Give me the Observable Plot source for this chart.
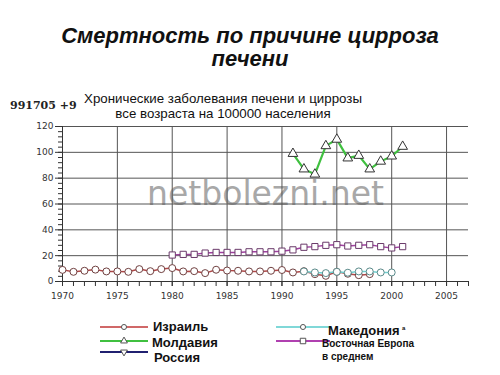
<!DOCTYPE html>
<html>
<head>
<meta charset="utf-8">
<script src="https://cdn.jsdelivr.net/npm/d3@7"></script>
<script src="https://cdn.jsdelivr.net/npm/@observablehq/plot@0.6"></script>
<style>
  body { margin:0; width:500px; height:375px; background:#fff; position:relative; overflow:hidden; font-family:"Liberation Sans", Arial, sans-serif; }
  .abs { position:absolute; }
  #title { left:0; width:500px; top:24px; text-align:center; font-weight:bold; font-style:italic; font-size:22px; line-height:23px; color:#111; }
  #sub { left:78px; width:290px; top:91px; text-align:center; font-size:13.3px; line-height:15px; color:#111; background:#fff; }
  #code { left:10px; top:99px; width:69px; overflow:hidden; white-space:nowrap; font-family:"DejaVu Serif", serif; font-weight:bold; font-size:11px; color:#222; }
  #chart { left:0; top:0; }
</style>
</head>
<body>
<div id="chart" class="abs"></div>
<div id="code" class="abs">991705 +9</div>
<div id="sub" class="abs">Хронические заболевания печени и циррозы<br>все возраста на 100000 населения</div>
<div id="title" class="abs">Смертность по причине цирроза<br>печени</div>
<svg class="abs" style="left:0;top:0" width="500" height="375" id="legend"></svg>
<script>
const israelYears = [1970,1971,1972,1973,1974,1975,1976,1977,1978,1979,1980,1981,1982,1983,1984,1985,1986,1987,1988,1989,1990,1991,1992,1993,1994,1995,1996,1997,1998];
const israelValues = [9,7.5,8.3,9.2,7.8,7.8,7.5,9.6,8,9.6,10.4,7.8,8,6.5,9.1,8.5,8.3,7.8,7.8,8.3,8.9,7,8,5.7,4.4,7.5,6,4.9,5.7];
const moldovaYears = [1991,1992,1993,1994,1995,1996,1997,1998,1999,2000,2001];
const moldovaValues = [99,87,83,105,110,95.5,97.5,87,93,97,104.5];
const macedoniaYears = [1992,1993,1994,1995,1996,1997,1998,1999,2000];
const macedoniaValues = [7.8,7,6.5,7.5,6.8,7.8,7.8,7,7];
const eeYears = [1980,1981,1982,1983,1984,1985,1986,1987,1988,1989,1990,1991,1992,1993,1994,1995,1996,1997,1998,1999,2000,2001];
const eeValues = [20.5,21,21,22,22.5,22.5,22.5,23,23,23,23.5,24.5,26.5,27,28,28.5,27.5,28,28.5,27,26,27];
const yTicks = [0,20,40,60,80,100,120];
const xTicks = [1970,1975,1980,1985,1990,1995,2000,2005];

const rows = (ys, vs) => ys.map((y,i)=>({year:y, value:vs[i]}));
const israel = rows(israelYears, israelValues);
const moldova = rows(moldovaYears, moldovaValues);
const macedonia = rows(macedoniaYears, macedoniaValues);
const ee = rows(eeYears, eeValues);

const grid = "#555";
const plot = Plot.plot({
  width: 500, height: 310,
  marginTop: 126, marginLeft: 62, marginRight: 32, marginBottom: 29,
  x: {domain: [1970, 2007], label: null},
  y: {domain: [0, 120], label: null},
  style: {fontFamily: "DejaVu Sans, sans-serif", fontSize: "9px", color: "#333", background: "transparent"},
  marks: [
    Plot.text(["netbolezni.net"], {frameAnchor: "middle", dy: -10, fontSize: 33, fill: "#a8a8a8", fontFamily: "DejaVu Sans, sans-serif"}),
    Plot.ruleY(yTicks.slice(1), {x1: 1970, x2: 2007, stroke: grid, strokeWidth: 1}),
    Plot.ruleX(xTicks.slice(1), {y1: 0, y2: 120, stroke: grid, strokeWidth: 1}),
    Plot.axisY({ticks: d3.range(0, 121, 4), tickSize: 4, tickFormat: () => "", stroke: "#333", label: null}),
    Plot.axisY({ticks: yTicks, tickSize: 7, tickPadding: 2, stroke: "#333", fill: "#333", label: null}),
    Plot.axisX({ticks: d3.range(1970, 2008, 1), tickSize: 5, tickFormat: () => "", stroke: "#333", label: null}),
    Plot.axisX({ticks: xTicks, tickSize: 5, tickPadding: 6, tickFormat: d => String(d), stroke: "#333", fill: "#333", label: null}),
    Plot.ruleX([1970], {y1: 0, y2: 120, stroke: "#333"}),
    Plot.ruleY([0], {x1: 1970, x2: 2007, stroke: "#333"}),
    Plot.line(ee, {x: "year", y: "value", stroke: "#a040a0", strokeWidth: 1.5}),
    Plot.dot(ee, {x: "year", y: "value", symbol: "square", r: 3.5, fill: "#fff", stroke: "#6a3a6a", strokeWidth: 1}),
    Plot.line(israel, {x: "year", y: "value", stroke: "#b04848", strokeWidth: 1.5}),
    Plot.dot(israel, {x: "year", y: "value", symbol: "circle", r: 3.5, fill: "#fff", stroke: "#704040", strokeWidth: 1}),
    Plot.line(macedonia, {x: "year", y: "value", stroke: "#70d0d0", strokeWidth: 1.5}),
    Plot.dot(macedonia, {x: "year", y: "value", symbol: "circle", r: 3.5, fill: "#fff", stroke: "#5a8a8a", strokeWidth: 1}),
    Plot.line(moldova, {x: "year", y: "value", stroke: "#40c040", strokeWidth: 2.2}),
    Plot.dot(moldova, {x: "year", y: "value", symbol: "triangle", r: 3.6, fill: "#fff", stroke: "#333", strokeWidth: 1})
  ]
});
document.getElementById("chart").appendChild(plot);

// Legend
const legendItems = [
  {name: "Израиль", color: "#d06868", x1: 100, x2: 148, y: 327, sym: "circle", tx: 153, ty: 331, fs: 13},
  {name: "Молдавия", color: "#40c040", x1: 100, x2: 148, y: 341, sym: "triangle", tx: 152, ty: 347, fs: 13},
  {name: "Россия", color: "#202070", x1: 100, x2: 148, y: 352, sym: "triangleDown", tx: 154, ty: 362, fs: 13},
  {name: "Македония", color: "#80d8d8", x1: 276, x2: 330, y: 327, sym: "circle", tx: 328, ty: 335, fs: 13},
  {name: "Восточная Европа", color: "#b040b0", x1: 276, x2: 330, y: 341, sym: "square", tx: 322, ty: 347, fs: 10}
];
const svg = d3.select("#legend");
legendItems.forEach(it => {
  svg.append("line").attr("x1", it.x1).attr("x2", it.x2).attr("y1", it.y).attr("y2", it.y).attr("stroke", it.color).attr("stroke-width", 2);
  const cx = (it.x1 + it.x2) / 2, cy = it.y;
  let sym;
  if (it.sym === "circle") sym = d3.symbol(d3.symbolCircle, 20);
  else if (it.sym === "triangle") sym = d3.symbol(d3.symbolTriangle, 20);
  else if (it.sym === "square") sym = d3.symbol(d3.symbolSquare, 30);
  if (it.sym === "triangleDown") {
    svg.append("path").attr("d", d3.symbol(d3.symbolTriangle, 20)()).attr("transform", `translate(${cx},${cy}) rotate(180)`).attr("fill", "#fff").attr("stroke", "#555");
  } else {
    svg.append("path").attr("d", sym()).attr("transform", `translate(${cx},${cy})`).attr("fill", "#fff").attr("stroke", "#555");
  }
  svg.append("text").attr("x", it.tx).attr("y", it.ty).attr("font-family", "Liberation Sans, Arial, sans-serif").attr("font-weight", "bold").attr("font-size", it.fs).attr("fill", "#111").text(it.name);
});
svg.append("text").attr("x", 402).attr("y", 330).attr("font-family", "Liberation Sans, Arial, sans-serif").attr("font-weight", "bold").attr("font-size", 6).attr("fill", "#111").text("а");
svg.append("text").attr("x", 322).attr("y", 360).attr("font-family", "Liberation Sans, Arial, sans-serif").attr("font-weight", "bold").attr("font-size", 10).attr("fill", "#111").text("в среднем");
</script>
</body>
</html>
